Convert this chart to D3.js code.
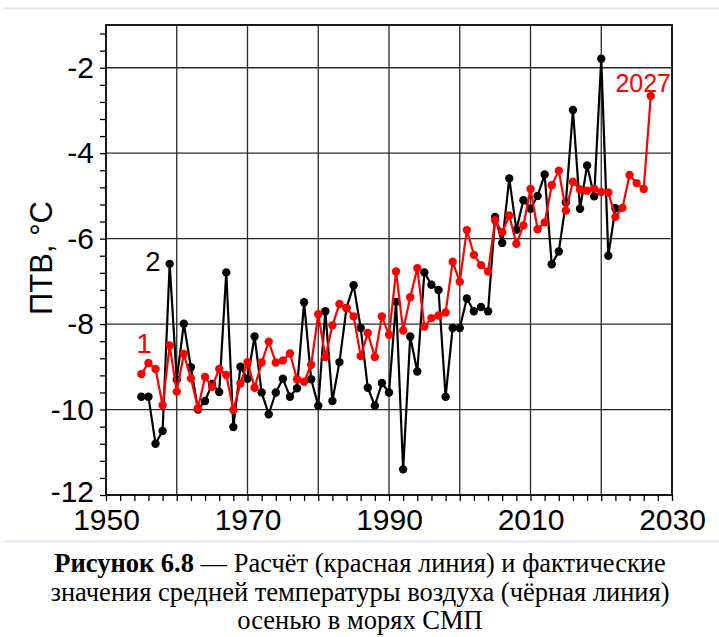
<!DOCTYPE html>
<html>
<head>
<meta charset="utf-8">
<script src="https://cdn.jsdelivr.net/npm/d3@7"></script>
<style>
  html, body { margin: 0; padding: 0; background: #fff; }
  svg { display: block; }
</style>
</head>
<body>
<svg id="chart" width="719" height="637"></svg>
<script>
// Observed autumn air temperature (black) and model estimate (red), °C
const factYears = d3.range(1955, 2023);
const factValues = [
  -9.70, -9.70, -10.80, -10.50, -6.59, -9.30, -7.99, -9.01, -10.00, -9.80,
  -9.40, -9.59, -6.79, -10.41, -9.00, -9.28, -8.29, -9.60, -10.11, -9.60,
  -9.28, -9.70, -9.50, -7.49, -9.29, -9.91, -7.70, -9.80, -8.89, -7.62,
  -7.09, -8.09, -9.49, -9.91, -9.38, -9.60, -7.48, -11.40, -8.29, -9.11,
  -6.79, -7.08, -7.20, -9.70, -8.09, -8.09, -7.40, -7.70, -7.60, -7.70,
  -5.49, -6.10, -4.59, -5.79, -5.10, -5.30, -5.00, -4.50, -6.60, -6.30,
  -5.15, -2.99, -5.30, -4.29, -5.01, -1.79, -6.40, -5.29
];
const calcYears = d3.range(1955, 2028);
const calcValues = [
  -9.17, -8.91, -9.05, -9.90, -8.50, -9.58, -8.70, -9.27, -9.97, -9.24,
  -9.47, -9.05, -9.19, -10.01, -9.39, -8.89, -9.49, -8.90, -8.41, -8.90,
  -8.85, -8.69, -9.29, -9.35, -8.95, -7.77, -8.77, -8.03, -7.53, -7.63,
  -7.82, -8.75, -8.21, -8.77, -7.82, -8.25, -6.77, -8.15, -7.37, -6.69,
  -8.06, -7.86, -7.80, -7.73, -6.54, -7.01, -5.80, -6.38, -6.62, -6.77,
  -5.57, -5.85, -5.46, -6.12, -5.69, -4.84, -5.78, -5.62, -4.75, -4.41,
  -5.34, -4.67, -4.85, -4.88, -4.83, -4.91, -4.92, -5.49, -5.28, -4.51,
  -4.70, -4.84, -2.66
];
const xTickLabels = [1950, 1970, 1990, 2010, 2030];
const yTickLabels = [-12, -10, -8, -6, -4, -2];
const xGrid = [1960, 1970, 1980, 1990, 2000, 2010, 2020];
const yGrid = [-10, -8, -6, -4, -2];

const svg = d3.select("#chart");
const plotL = 106, plotR = 672, plotT = 25, plotB = 495;

const x = d3.scaleLinear().domain([1950, 2030]).range([plotL, plotR]);
const y = d3.scaleLinear().domain([-12, -1]).range([plotB, plotT]);

svg.append("rect").attr("width", 719).attr("height", 637).attr("fill", "#fff");

// thin separator rules of the page
svg.append("line").attr("x1", 4).attr("x2", 719).attr("y1", 8.5).attr("y2", 8.5)
  .attr("stroke", "#dfe8f4").attr("stroke-width", 2);
svg.append("line").attr("x1", 4).attr("x2", 719).attr("y1", 541.5).attr("y2", 541.5)
  .attr("stroke", "#dfe8f4").attr("stroke-width", 2);

// grid
const grid = svg.append("g").attr("stroke", "#2a2a2a").attr("stroke-width", 1.3);
grid.selectAll("line.v").data(xGrid).join("line").attr("class", "v")
  .attr("x1", d => x(d)).attr("x2", d => x(d)).attr("y1", plotT).attr("y2", plotB);
grid.selectAll("line.h").data(yGrid).join("line").attr("class", "h")
  .attr("x1", plotL).attr("x2", plotR).attr("y1", d => y(d)).attr("y2", d => y(d));

// frame
svg.append("rect").attr("x", plotL).attr("y", plotT)
  .attr("width", plotR - plotL).attr("height", plotB - plotT)
  .attr("fill", "none").attr("stroke", "#000").attr("stroke-width", 1.8);

// axes
const yTicks = d3.range(0, 28).map(i => Math.round((-12 + i * 0.4) * 10) / 10);
const yAxis = d3.axisLeft(y).tickValues(yTicks).tickSize(6).tickPadding(6)
  .tickFormat(d => yTickLabels.includes(d) ? String(d) : "");
const yG = svg.append("g").attr("transform", `translate(${plotL},0)`).call(yAxis);

const xTicks = d3.range(1950, 2031, 2);
const xAxis = d3.axisBottom(x).tickValues(xTicks).tickSize(6).tickPadding(8)
  .tickFormat(d => xTickLabels.includes(d) ? String(d) : "");
const xG = svg.append("g").attr("transform", `translate(0,${plotB})`).call(xAxis);

[yG, xG].forEach(g => {
  g.select(".domain").remove();
  g.selectAll(".tick line").attr("stroke", "#000").attr("stroke-width", 1.3);
  g.selectAll(".tick text").attr("fill", "#000")
    .style("font-family", "'Liberation Sans', Arial, sans-serif")
    .style("font-size", "30px");
});
// keep the lowest y label clear of the first year label
yG.selectAll(".tick text").filter(d => d === -12).attr("dy", "0.22em");

// y title
svg.append("text")
  .attr("transform", "translate(52,258) rotate(-90)")
  .attr("text-anchor", "middle")
  .style("font-family", "'Liberation Sans', Arial, sans-serif")
  .style("font-size", "31px")
  .text("ПТВ, °C");

// series
const line = d3.line().x(d => x(d[0])).y(d => y(d[1]));
const factPts = factYears.map((yr, i) => [yr, factValues[i]]);
const calcPts = calcYears.map((yr, i) => [yr, calcValues[i]]);

function drawSeries(pts, color) {
  const g = svg.append("g");
  g.append("path").datum(pts).attr("d", line)
    .attr("fill", "none").attr("stroke", color).attr("stroke-width", 2.2)
    .attr("stroke-linejoin", "miter");
  g.selectAll("circle").data(pts).join("circle")
    .attr("cx", d => x(d[0])).attr("cy", d => y(d[1])).attr("r", 4.2)
    .attr("fill", color);
}
drawSeries(factPts, "#000");
drawSeries(calcPts, "#ff0000");

// series labels
const lblFont = "'Liberation Sans', Arial, sans-serif";
svg.append("text").attr("x", 153).attr("y", 271).attr("text-anchor", "middle")
  .style("font-family", lblFont).style("font-size", "27px").attr("fill", "#000").text("2");
svg.append("text").attr("x", 144).attr("y", 353).attr("text-anchor", "middle")
  .style("font-family", lblFont).style("font-size", "28px").attr("fill", "#ff0000").text("1");
svg.append("text").attr("x", 671).attr("y", 92).attr("text-anchor", "end")
  .style("font-family", lblFont).style("font-size", "25px").attr("fill", "#ff0000").text("2027");

// caption
const cap = svg.append("g")
  .style("font-family", "'Liberation Serif', 'Times New Roman', serif")
  .style("font-size", "26.5px").attr("fill", "#000");
const l1 = cap.append("text").attr("x", 360).attr("y", 572).attr("text-anchor", "middle");
l1.append("tspan").style("font-weight", "bold").text("Рисунок 6.8");
l1.append("tspan").text(" — Расчёт (красная линия) и фактические");
cap.append("text").attr("x", 360).attr("y", 601).attr("text-anchor", "middle")
  .text("значения средней температуры воздуха (чёрная линия)");
cap.append("text").attr("x", 360).attr("y", 629).attr("text-anchor", "middle")
  .text("осенью в морях СМП");
</script>
</body>
</html>
